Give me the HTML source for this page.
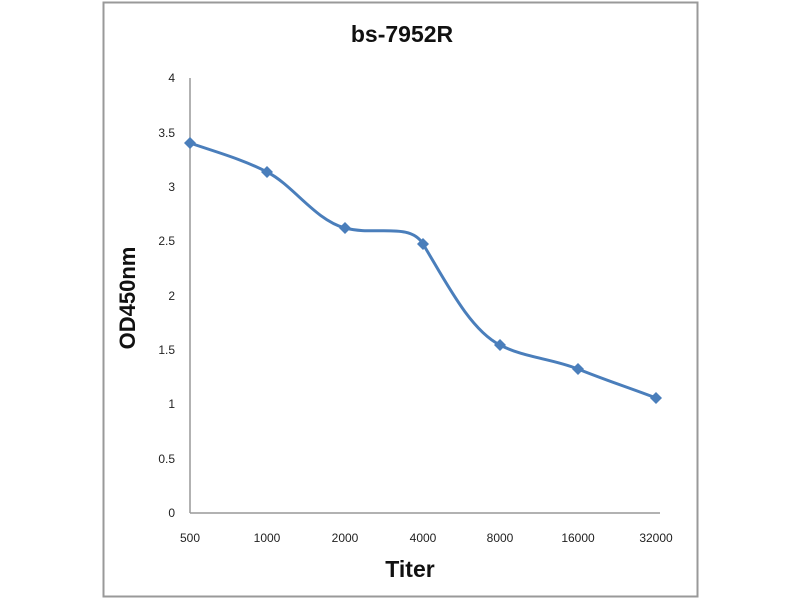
<!DOCTYPE html>
<html><head><meta charset="utf-8"><style>body{margin:0;background:#fff}svg{display:block}</style></head>
<body>
<svg width="800" height="600" viewBox="0 0 800 600" xmlns="http://www.w3.org/2000/svg" font-family="'Liberation Sans', sans-serif">
<rect x="0" y="0" width="800" height="600" fill="#fff"/>
<rect x="103.5" y="2.5" width="594" height="594" fill="none" stroke="#999" stroke-width="2"/>
<text x="402" y="42" font-size="23" font-weight="bold" text-anchor="middle" fill="#111">bs-7952R</text>
<line x1="190" y1="78" x2="190" y2="513" stroke="#999" stroke-width="1.5"/>
<line x1="190" y1="513" x2="660" y2="513" stroke="#999" stroke-width="1.5"/>
<g font-size="12" fill="#222" text-anchor="end">
<text x="175" y="82">4</text><text x="175" y="137">3.5</text><text x="175" y="191">3</text><text x="175" y="245">2.5</text><text x="175" y="300">2</text><text x="175" y="354">1.5</text><text x="175" y="408">1</text><text x="175" y="463">0.5</text><text x="175" y="517">0</text>
</g>
<g font-size="12" fill="#222" text-anchor="middle">
<text x="190" y="542">500</text><text x="267" y="542">1000</text><text x="345" y="542">2000</text><text x="423" y="542">4000</text><text x="500" y="542">8000</text><text x="578" y="542">16000</text><text x="656" y="542">32000</text>
</g>
<text x="410" y="577" font-size="23" font-weight="bold" text-anchor="middle" fill="#111">Titer</text>
<text transform="translate(135,298) rotate(-90)" font-size="22" font-weight="bold" text-anchor="middle" fill="#111">OD450nm</text>
<path d="M190,143 C216,152 242,159 267,172 C293,185 315,220 345,228 C375,236 410,222 423,244 C446,282 470,330 500,345 C525,358 550,358 578,369 C605,380 630,388 656,398" fill="none" stroke="#4A7EBB" stroke-width="3"/>
<g fill="#4A7EBB">
<path d="M190,137 l6,6 -6,6 -6,-6z"/><path d="M267,166 l6,6 -6,6 -6,-6z"/><path d="M345,222 l6,6 -6,6 -6,-6z"/><path d="M423,238 l6,6 -6,6 -6,-6z"/><path d="M500,339 l6,6 -6,6 -6,-6z"/><path d="M578,363 l6,6 -6,6 -6,-6z"/><path d="M656,392 l6,6 -6,6 -6,-6z"/>
</g>
</svg>
</body></html>
